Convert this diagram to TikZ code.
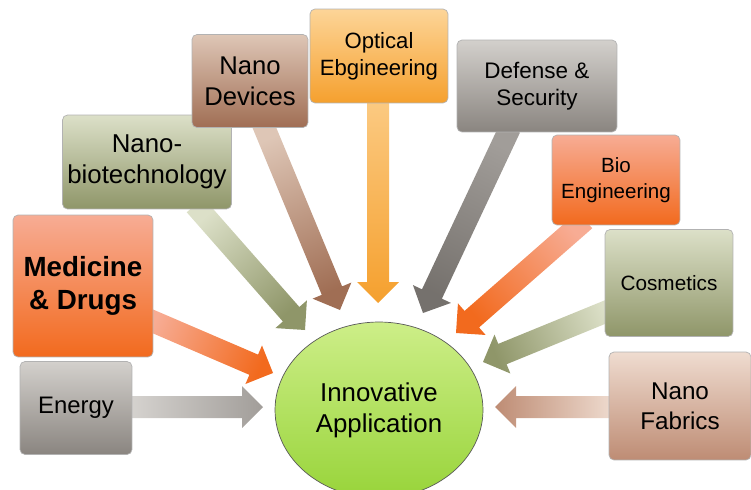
\documentclass[tikz,border=0pt]{standalone}
\usepackage{fontspec}
\setmainfont{Liberation Sans}
\usetikzlibrary{calc,shapes.geometric}

\definecolor{medtop}{HTML}{F7AC94}
\definecolor{medbot}{HTML}{F26A1E}
\definecolor{greytop}{HTML}{D3D0CC}
\definecolor{greybot}{HTML}{8A8580}
\definecolor{olivetop}{HTML}{DCE0C8}
\definecolor{olivebot}{HTML}{8F9669}
\definecolor{browntop}{HTML}{DEC6B6}
\definecolor{brownbot}{HTML}{A06E54}
\definecolor{opttop}{HTML}{FDD598}
\definecolor{optbot}{HTML}{F5A02E}
\definecolor{fabtop}{HTML}{EFDCD0}
\definecolor{fabbot}{HTML}{BE8C74}
\definecolor{apptop}{HTML}{CDEE88}
\definecolor{appbot}{HTML}{98D43A}

\newcommand\blockarrow[4]{%
  \pgfmathanglebetweenpoints{\pgfpointanchor{#1}{center}}{\pgfpointanchor{#2}{center}}%
  \let\arrowdir\pgfmathresult
  \pgfmathsetmacro\arrowangle{\arrowdir-90}%
  \coordinate (hb) at ($(#2)!0.42cm!(#1)$);
  \shade[bottom color=#3,top color=#4,shading angle=\arrowangle]
    ($(#1)!0.22cm!90:(#2)$) -- ($(hb)!0.22cm!90:(#2)$) -- ($(hb)!0.42cm!90:(#2)$) -- (#2)
    -- ($(hb)!0.42cm!-90:(#2)$) -- ($(hb)!0.22cm!-90:(#2)$) -- ($(#1)!0.22cm!-90:(#2)$) -- cycle;}

\begin{document}
\begin{tikzpicture}[x=0.02cm,y=-0.02cm]
    \tikzstyle{box}=[draw=gray!60,rounded corners=0.1cm,align=center,inner sep=0pt]
    \useasboundingbox (0,0) rectangle (751,490);
    \coordinate (energy-s) at (125,407);
      \coordinate (energy-t) at (263,407);
    \coordinate (med-s) at (145,318);
      \coordinate (med-t) at (273,373);
    \coordinate (bio-s) at (195,205);
      \coordinate (bio-t) at (305,330);
    \coordinate (dev-s) at (262,122);
      \coordinate (dev-t) at (340,310);
    \coordinate (opt-s) at (378,98);
      \coordinate (opt-t) at (378,303);
    \coordinate (def-s) at (510,128);
      \coordinate (def-t) at (423,313);
    \coordinate (bioeng-s) at (585,220);
      \coordinate (bioeng-t) at (456,333);
    \coordinate (cos-s) at (615,308);
      \coordinate (cos-t) at (483,362);
    \coordinate (fab-s) at (615,407);
      \coordinate (fab-t) at (495,407);
    \blockarrow{energy-s}{energy-t}{greytop!90}{greybot!80!white}
    \blockarrow{med-s}{med-t}{medtop}{medbot}
    \blockarrow{bio-s}{bio-t}{olivetop}{olivebot}
    \blockarrow{dev-s}{dev-t}{browntop}{brownbot}
    \blockarrow{opt-s}{opt-t}{opttop!80!optbot}{optbot}
    \blockarrow{def-s}{def-t}{greybot!80!white}{greybot!85!black}
    \blockarrow{bioeng-s}{bioeng-t}{medtop}{medbot}
    \blockarrow{cos-s}{cos-t}{olivetop}{olivebot}
    \blockarrow{fab-s}{fab-t}{fabtop}{fabbot}
    \node[box,minimum width=2.8cm,minimum height=2.84cm,top color=medtop,bottom color=medbot,font=\fontsize{15.8}{19}\selectfont\bfseries] (med) at (83,286) {Medicine\\\& Drugs};
    \node[box,minimum width=2.24cm,minimum height=1.86cm,top color=greytop,bottom color=greybot,font=\fontsize{13.6}{16}\selectfont] (energy) at (76,408) {Energy};
    \node[box,minimum width=3.38cm,minimum height=1.88cm,top color=olivetop,bottom color=olivebot,font=\fontsize{14.7}{17.5}\selectfont] (bio) at (147,162) {Nano-\\biotechnology};
    \node[box,minimum width=2.32cm,minimum height=1.86cm,top color=browntop,bottom color=brownbot,font=\fontsize{14.6}{17.5}\selectfont] (dev) at (250,81) {Nano\\Devices};
    \node[box,minimum width=2.76cm,minimum height=1.88cm,top color=opttop,bottom color=optbot,font=\fontsize{12.6}{15.5}\selectfont] (opt) at (379,56) {Optical\\Ebgineering};
    \node[box,minimum width=3.2cm,minimum height=1.84cm,top color=greytop,bottom color=greybot,font=\fontsize{12.8}{15.5}\selectfont] (def) at (537,86) {Defense \&\\Security};
    \node[box,minimum width=2.56cm,minimum height=1.8cm,top color=medtop,bottom color=medbot,font=\fontsize{11.7}{14.5}\selectfont] (bioeng) at (616,180) {Bio\\Engineering};
    \node[box,minimum width=2.56cm,minimum height=2.14cm,top color=olivetop,bottom color=olivebot,font=\fontsize{11.8}{14}\selectfont] (cos) at (669,283) {Cosmetics};
    \node[box,minimum width=2.84cm,minimum height=2.16cm,top color=fabtop,bottom color=fabbot,font=\fontsize{13.8}{17}\selectfont] (fab) at (680,406) {Nano\\Fabrics};
    \node[ellipse,draw=gray!70!black,inner sep=0pt,minimum width=4.16cm,minimum height=3.52cm,top color=apptop,bottom color=appbot,align=center,font=\fontsize{14.7}{17.5}\selectfont] (app) at (379,410) {Innovative\\Application};
\end{tikzpicture}
\end{document}
